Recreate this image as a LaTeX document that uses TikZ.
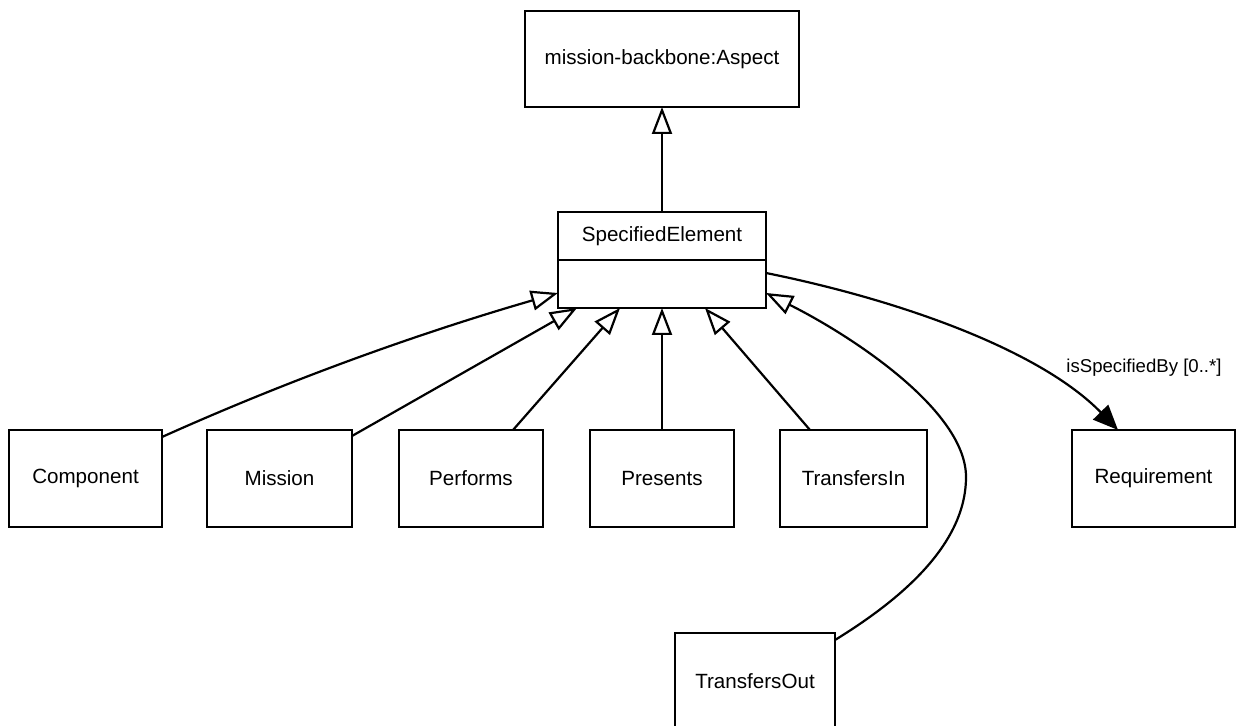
\documentclass[tikz,border=0pt]{standalone}
\usepackage{fontspec}
\setmainfont{Liberation Sans}
\usetikzlibrary{arrows.meta,calc}
\begin{document}
\begin{tikzpicture}[x=0.5pt,y=-0.5pt,
  cls/.style={draw,line width=1.15pt,inner sep=0pt,outer sep=0pt,minimum height=48.5pt,
    font=\fontsize{10.3}{12}\selectfont},
  gen/.style={line width=1.1pt,-{Triangle[open,length=13.5pt,width=10pt,line width=1.1pt]}},
  assoc/.style={line width=1.1pt,-{Triangle[length=12.5pt,width=10.5pt]}},
  lbl/.style={font=\fontsize{9.3}{11}\selectfont,inner sep=0pt}]
\useasboundingbox (0,0) rectangle (1236,726);
\node[cls,minimum width=137pt,minimum height=48pt] (asp) at (662,59) {mission-backbone:Aspect};
\node[cls,minimum width=104pt,minimum height=48pt] (spec) at (662,260) {};
\node[font=\fontsize{10.3}{12}\selectfont] (spect) at (662,236) {SpecifiedElement};
\draw[line width=1.15pt] (spec.west) -- (spec.east);
\node[cls,minimum width=76.5pt] (comp) at (85.5,478.5) {Component};
\node[cls,minimum width=72.5pt] (mis) at (279.5,478.5) {Mission};
\node[cls,minimum width=72pt] (perf) at (471,478.5) {Performs};
\node[cls,minimum width=72pt] (pres) at (662,478.5) {Presents};
\node[cls,minimum width=73.5pt] (tin) at (853.5,478.5) {TransfersIn};
\node[cls,minimum width=81.5pt] (req) at (1153.5,478.5) {Requirement};
\node[cls,minimum width=80pt] (tout) at (755,681.5) {TransfersOut};
% generalizations
\draw[gen] (spec.north) -- (asp.south);
\draw[gen] ($(comp.north east)+(0,7)$) .. controls (300,375) and (430,330) .. ($(spec.south west)+(0,-15)$);
\draw[gen] ($(mis.north east)+(0,6)$) -- ($(spec.south west)+(19,0)$);
\draw[gen] ($(perf.north west)+(114,0)$) -- ($(spec.south west)+(62,0)$);
\draw[gen] (pres.north) -- (spec.south);
\draw[gen] ($(tin.north west)+(30,0)$) -- ($(spec.south west)+(147,0)$);
\draw[gen] ($(tout.north east)+(0,7)$) .. controls (900,600) and (966,545) .. (966,477)
  .. controls (966,410) and (850,335) .. ($(spec.south east)+(0,-15)$);
% association
\draw[assoc] ($(spec.north east)+(0,61)$) .. controls (900,300) and (1040,350) .. ($(req.north west)+(46,0)$);
\node[lbl] (assoclabel) at (1144,368) {isSpecifiedBy [0..*]};
\end{tikzpicture}
\end{document}
